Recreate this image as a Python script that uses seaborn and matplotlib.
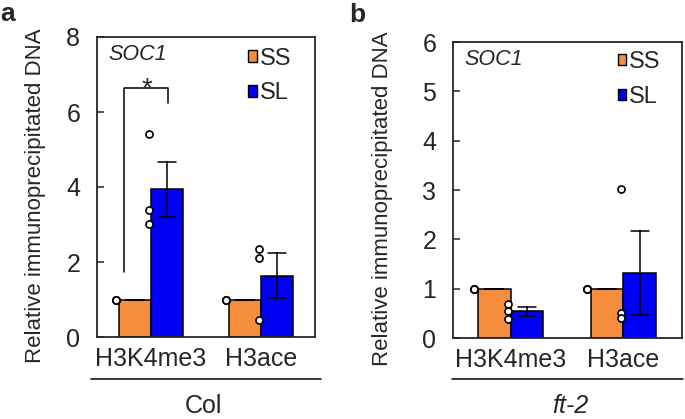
import matplotlib
matplotlib.use("Agg")
import matplotlib.pyplot as plt
from matplotlib.patches import Patch
import seaborn as sns
import pandas as pd

# ---------------------------------------------------
# Data (three biological replicates per bar)
# ---------------------------------------------------

marks = ["H3K4me3", "H3ace"]
conditions = ["SS", "SL"]
bar_colors = ["#F58D3D", "#0000F5"]

col_h3k4me3_ss = [1.0, 1.0, 1.0]
col_h3k4me3_sl = [5.40, 3.40, 3.02]
col_h3ace_ss = [1.0, 1.0, 1.0]
col_h3ace_sl = [2.35, 2.12, 0.45]

ft2_h3k4me3_ss = [1.0, 1.0, 1.0]
ft2_h3k4me3_sl = [0.69, 0.55, 0.38]
ft2_h3ace_ss = [1.0, 1.0, 1.0]
ft2_h3ace_sl = [3.02, 0.51, 0.41]

col_yticks = [0, 2, 4, 6, 8]
ft2_yticks = [0, 1, 2, 3, 4, 5, 6]


def make_df(h3k4_ss, h3k4_sl, h3ace_ss, h3ace_sl):
    rows = []
    for mark, cond, vals in [
        ("H3K4me3", "SS", h3k4_ss),
        ("H3K4me3", "SL", h3k4_sl),
        ("H3ace", "SS", h3ace_ss),
        ("H3ace", "SL", h3ace_sl),
    ]:
        for v in vals:
            rows.append({"mark": mark, "condition": cond, "value": v})
    return pd.DataFrame(rows)


df_col = make_df(col_h3k4me3_ss, col_h3k4me3_sl, col_h3ace_ss, col_h3ace_sl)
df_ft2 = make_df(ft2_h3k4me3_ss, ft2_h3k4me3_sl, ft2_h3ace_ss, ft2_h3ace_sl)

sns.set_style("ticks")
plt.rcParams["font.family"] = ["Liberation Sans", "DejaVu Sans"]


# ---------------------------------------------------
# One panel
# ---------------------------------------------------

def draw_panel(ax, df, yticks, xlim, legend_anchor, label_x):

    sns.barplot(
        data=df,
        x="mark",
        y="value",
        hue="condition",
        order=marks,
        hue_order=conditions,
        palette=bar_colors,
        saturation=1,
        errorbar="se",
        capsize=0.32,
        width=0.58,
        edgecolor="black",
        linewidth=1.1,
        err_kws={"color": "black", "linewidth": 1.1},
        legend=False,
        ax=ax
    )

    # replicate points sit on the left edge of each bar
    offsets = {"SS": -0.32, "SL": -0.02}
    xpos = df["mark"].map(marks.index) + df["condition"].map(offsets)
    ax.scatter(
        xpos,
        df["value"],
        s=26,
        facecolor="white",
        edgecolor="black",
        linewidth=1.2,
        zorder=5,
        clip_on=False
    )

    ax.set_xlim(*xlim)
    ax.set_ylim(yticks[0], yticks[-1])
    ax.set_yticks(yticks)
    ax.set_xlabel("")
    ax.set_ylabel("Relative immunoprecipitated DNA", fontsize=16)
    ax.yaxis.set_label_coords(label_x, 0.47)

    ax.tick_params(axis="y", direction="in", length=5, width=1.1,
                   pad=12, labelsize=18)
    ax.tick_params(axis="x", length=0, pad=7, labelsize=18)

    for sp in ax.spines.values():
        sp.set_visible(True)
        sp.set_linewidth(1.3)

    ax.text(0.05, 0.94, "SOC1", transform=ax.transAxes,
            style="italic", fontsize=15.5, va="center")

    handles = [Patch(facecolor=c, edgecolor="black", linewidth=1.0)
               for c in bar_colors]
    ax.legend(
        handles,
        conditions,
        loc="upper left",
        bbox_to_anchor=legend_anchor,
        frameon=False,
        fontsize=17,
        handlelength=0.36,
        handleheight=0.36,
        handletextpad=0.12,
        labelspacing=0.55,
        borderpad=0,
        borderaxespad=0
    )


fig = plt.figure(figsize=(6.85, 4.19), dpi=100)

ax_a = fig.add_axes([97 / 685, 82 / 419, 218 / 685, 300 / 419])
ax_b = fig.add_axes([453 / 685, 81 / 419, 229 / 685, 296 / 419])

draw_panel(ax_a, df_col, col_yticks, (-0.49, 1.49), (0.693, 0.965), -0.235)
draw_panel(ax_b, df_ft2, ft2_yticks, (-0.51, 1.52), (0.72, 0.97), -0.262)

# significance bracket in panel a
ax_a.plot([-0.245, -0.245, 0.155, 0.155], [1.73, 6.64, 6.64, 6.24],
          color="black", linewidth=1.1)
ax_a.text(-0.036, 6.62, "*", ha="center", va="center", fontsize=20)

# genotype group lines and names
ax_a.plot([-0.028, 1.028], [-0.14, -0.14], transform=ax_a.transAxes,
          clip_on=False, color="black", linewidth=1.1)
ax_b.plot([-0.004, 1.004], [-0.1385, -0.1385], transform=ax_b.transAxes,
          clip_on=False, color="black", linewidth=1.1)

fig.text(203 / 685, 13 / 419, "Col", ha="center", va="center", fontsize=18)
fig.text(570 / 685, 13 / 419, "ft-2", ha="center", va="center",
         fontsize=18, style="italic")

fig.text(8 / 685, 1 - 14 / 419, "a", ha="center", va="center",
         fontsize=19, fontweight="bold")
fig.text(357 / 685, 1 - 15 / 419, "b", ha="center", va="center",
         fontsize=19, fontweight="bold")

fig.savefig("out.png", dpi=100)
plt.close()
